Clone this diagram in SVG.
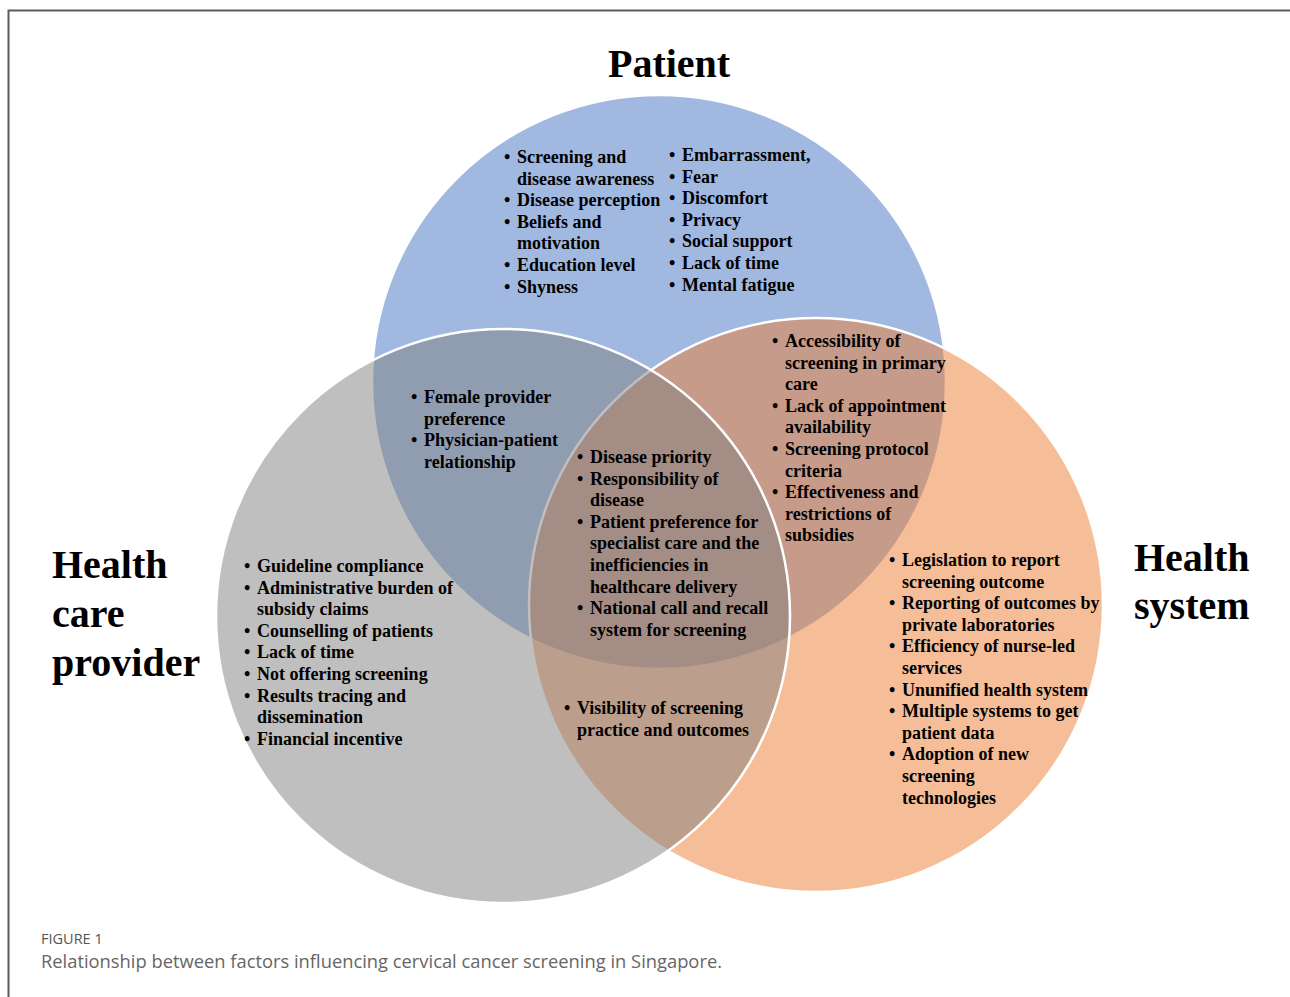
<svg xmlns="http://www.w3.org/2000/svg" width="1290" height="997" viewBox="0 0 1290 997">
<style>
.c{stroke:#ffffff;stroke-width:2.5}
.t{font-family:"Liberation Serif","Times New Roman",serif;font-weight:bold;font-size:18px;fill:#000}
.h{font-family:"Liberation Serif","Times New Roman",serif;font-weight:bold;font-size:40px;fill:#000}
.cap1{font-family:"Open Sans","Noto Sans",sans-serif;font-size:14.5px;fill:#555}
.cap2{font-family:"Open Sans","Noto Sans",sans-serif;font-size:18px;fill:#666}
</style>
<rect width="1290" height="997" fill="#ffffff"/>
<g id="frame">
<path d="M8.5,997 V10.5 H1290" fill="none" stroke="#5a5a5a" stroke-width="2"/>
</g>
<g id="circles">
<circle id="circle-patient" class="c" cx="659" cy="382" r="287" fill="#4472C4" fill-opacity="0.5"/>
<circle id="circle-system" class="c" cx="816" cy="605" r="287" fill="#ED7D31" fill-opacity="0.5"/>
<circle id="circle-provider" class="c" cx="503" cy="616" r="287" fill="#7F7F7F" fill-opacity="0.5"/>
</g>
<g id="title-patient"><text class="h" x="608" y="77">Patient</text></g>
<g id="title-provider"><text class="h" x="52" y="578">Health</text><text class="h" x="52" y="627">care</text><text class="h" x="52" y="676">provider</text></g>
<g id="title-system"><text class="h" x="1134" y="571">Health</text><text class="h" x="1134" y="619">system</text></g>
<g id="patient-left">
<text class="t" x="504" y="163">•</text><text class="t" x="517" y="163">Screening and</text>
<text class="t" x="517" y="184.6">disease awareness</text>
<text class="t" x="504" y="206.2">•</text><text class="t" x="517" y="206.2">Disease perception</text>
<text class="t" x="504" y="227.8">•</text><text class="t" x="517" y="227.8">Beliefs and</text>
<text class="t" x="517" y="249.4">motivation</text>
<text class="t" x="504" y="271">•</text><text class="t" x="517" y="271">Education level</text>
<text class="t" x="504" y="292.6">•</text><text class="t" x="517" y="292.6">Shyness</text>
</g>
<g id="patient-right">
<text class="t" x="669" y="161">•</text><text class="t" x="682" y="161">Embarrassment,</text>
<text class="t" x="669" y="182.6">•</text><text class="t" x="682" y="182.6">Fear</text>
<text class="t" x="669" y="204.2">•</text><text class="t" x="682" y="204.2">Discomfort</text>
<text class="t" x="669" y="225.8">•</text><text class="t" x="682" y="225.8">Privacy</text>
<text class="t" x="669" y="247.4">•</text><text class="t" x="682" y="247.4">Social support</text>
<text class="t" x="669" y="269">•</text><text class="t" x="682" y="269">Lack of time</text>
<text class="t" x="669" y="290.6">•</text><text class="t" x="682" y="290.6">Mental fatigue</text>
</g>
<g id="patient-provider">
<text class="t" x="411" y="403">•</text><text class="t" x="424" y="403">Female provider</text>
<text class="t" x="424" y="424.6">preference</text>
<text class="t" x="411" y="446.2">•</text><text class="t" x="424" y="446.2">Physician-patient</text>
<text class="t" x="424" y="467.8">relationship</text>
</g>
<g id="all-three">
<text class="t" x="577" y="463">•</text><text class="t" x="590" y="463">Disease priority</text>
<text class="t" x="577" y="484.6">•</text><text class="t" x="590" y="484.6">Responsibility of</text>
<text class="t" x="590" y="506.2">disease</text>
<text class="t" x="577" y="527.8">•</text><text class="t" x="590" y="527.8">Patient preference for</text>
<text class="t" x="590" y="549.4">specialist care and the</text>
<text class="t" x="590" y="571">inefficiencies in</text>
<text class="t" x="590" y="592.6">healthcare delivery</text>
<text class="t" x="577" y="614.2">•</text><text class="t" x="590" y="614.2">National call and recall</text>
<text class="t" x="590" y="635.8">system for screening</text>
</g>
<g id="patient-system">
<text class="t" x="772" y="347">•</text><text class="t" x="785" y="347">Accessibility of</text>
<text class="t" x="785" y="368.6">screening in primary</text>
<text class="t" x="785" y="390.2">care</text>
<text class="t" x="772" y="411.8">•</text><text class="t" x="785" y="411.8">Lack of appointment</text>
<text class="t" x="785" y="433.4">availability</text>
<text class="t" x="772" y="455">•</text><text class="t" x="785" y="455">Screening protocol</text>
<text class="t" x="785" y="476.6">criteria</text>
<text class="t" x="772" y="498.2">•</text><text class="t" x="785" y="498.2">Effectiveness and</text>
<text class="t" x="785" y="519.8">restrictions of</text>
<text class="t" x="785" y="541.4">subsidies</text>
</g>
<g id="system">
<text class="t" x="889" y="566">•</text><text class="t" x="902" y="566">Legislation to report</text>
<text class="t" x="902" y="587.6">screening outcome</text>
<text class="t" x="889" y="609.2">•</text><text class="t" x="902" y="609.2">Reporting of outcomes by</text>
<text class="t" x="902" y="630.8">private laboratories</text>
<text class="t" x="889" y="652.4">•</text><text class="t" x="902" y="652.4">Efficiency of nurse-led</text>
<text class="t" x="902" y="674">services</text>
<text class="t" x="889" y="695.6">•</text><text class="t" x="902" y="695.6">Ununified health system</text>
<text class="t" x="889" y="717.2">•</text><text class="t" x="902" y="717.2">Multiple systems to get</text>
<text class="t" x="902" y="738.8">patient data</text>
<text class="t" x="889" y="760.4">•</text><text class="t" x="902" y="760.4">Adoption of new</text>
<text class="t" x="902" y="782">screening</text>
<text class="t" x="902" y="803.6">technologies</text>
</g>
<g id="provider">
<text class="t" x="244" y="572">•</text><text class="t" x="257" y="572">Guideline compliance</text>
<text class="t" x="244" y="593.6">•</text><text class="t" x="257" y="593.6">Administrative burden of</text>
<text class="t" x="257" y="615.2">subsidy claims</text>
<text class="t" x="244" y="636.8">•</text><text class="t" x="257" y="636.8">Counselling of patients</text>
<text class="t" x="244" y="658.4">•</text><text class="t" x="257" y="658.4">Lack of time</text>
<text class="t" x="244" y="680">•</text><text class="t" x="257" y="680">Not offering screening</text>
<text class="t" x="244" y="701.6">•</text><text class="t" x="257" y="701.6">Results tracing and</text>
<text class="t" x="257" y="723.2">dissemination</text>
<text class="t" x="244" y="744.8">•</text><text class="t" x="257" y="744.8">Financial incentive</text>
</g>
<g id="provider-system">
<text class="t" x="564" y="714">•</text><text class="t" x="577" y="714">Visibility of screening</text>
<text class="t" x="577" y="735.6">practice and outcomes</text>
</g>
<g id="caption">
<text class="cap1" x="41" y="944">FIGURE 1</text>
<text class="cap2" x="41" y="968" textLength="681" lengthAdjust="spacingAndGlyphs">Relationship between factors influencing cervical cancer screening in Singapore.</text>
</g>
</svg>
